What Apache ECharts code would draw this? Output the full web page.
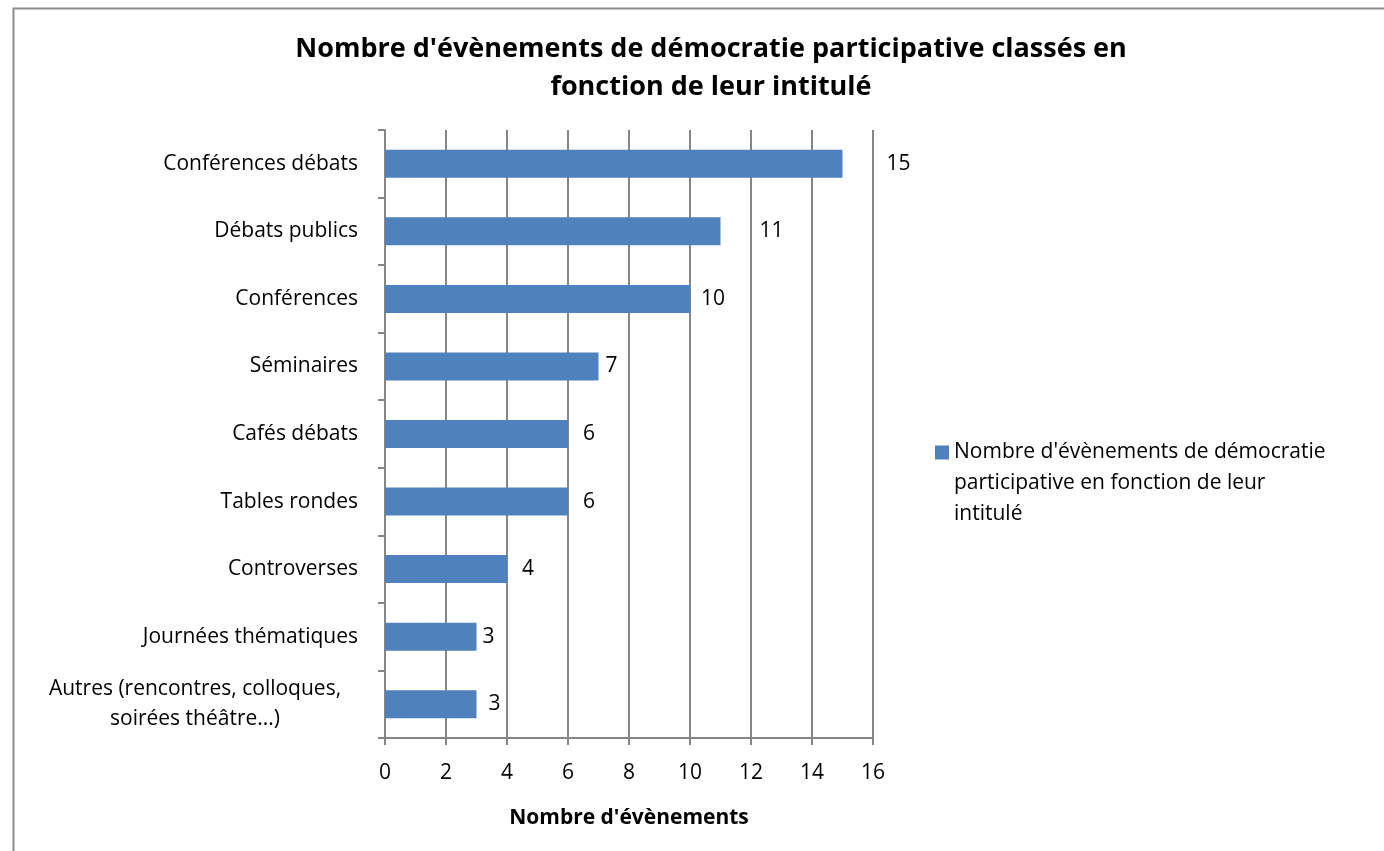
<!DOCTYPE html>
<html>
<head>
<meta charset="utf-8">
<script src="https://cdn.jsdelivr.net/npm/echarts@6/dist/echarts.min.js"></script>
<style>html,body{margin:0;padding:0;background:#fff;}#c{width:1384px;height:851px;}</style>
</head>
<body>
<div id="c"></div>
<script>
const categories = [
  "Conférences débats",
  "Débats publics",
  "Conférences",
  "Séminaires",
  "Cafés débats",
  "Tables rondes",
  "Controverses",
  "Journées thématiques",
  "Autres (rencontres, colloques,\nsoirées théâtre...)"
];
const values = [15, 11, 10, 7, 6, 6, 4, 3, 3];
const seriesName = "Nombre d'évènements de démocratie participative en fonction de leur intitulé";
const legendLines = ["Nombre d'évènements de démocratie", "participative en fonction de leur", "intitulé"];
const titleText = "Nombre d'évènements de démocratie participative classés en\nfonction de leur intitulé";
const xAxisName = "Nombre d'évènements";

// label gaps (px) as placed in the original spreadsheet chart
const labelGaps = [44, 39, 11, 7, 15, 15, 15, 6, 12];

const FONT = "Open Sans";
const chart = echarts.init(document.getElementById('c'));
chart.setOption({
  animation: false,
  backgroundColor: '#fff',
  graphic: [{
    type: 'rect', left: 11, top: 6, shape: {width: 1400, height: 900},
    style: {fill: 'none', stroke: '#8c8c8c', lineWidth: 2}, silent: true
  }],
  title: {
    text: titleText, left: 706, top: 25, textAlign: 'center',
    textStyle: {fontFamily: FONT, fontSize: 27, fontWeight: 'bold', color: '#000', lineHeight: 38}
  },
  legend: {
    left: 930, top: 370, orient: 'vertical', itemWidth: 14, itemHeight: 14, itemGap: 0,
    icon: 'rect',
    formatter: function () { return '\n\n' + legendLines.join('\n'); },
    textStyle: {fontFamily: FONT, fontSize: 21, color: '#000', lineHeight: 31}
  },
  grid: {left: 385, right: 511, top: 130, bottom: 113, containLabel: false},
  xAxis: {
    type: 'value', min: 0, max: 16, interval: 2,
    name: xAxisName, nameLocation: 'middle', nameGap: 70,
    nameTextStyle: {fontFamily: FONT, fontSize: 21, fontWeight: 'bold', color: '#000'},
    axisLine: {show: true, lineStyle: {color: '#868686', width: 2}},
    axisTick: {show: true, length: 7, lineStyle: {color: '#868686', width: 2}},
    axisLabel: {fontFamily: FONT, fontSize: 21, color: '#000', margin: 25},
    splitLine: {show: true, lineStyle: {color: '#868686', width: 2}}
  },
  yAxis: {
    type: 'category', data: categories, inverse: true,
    axisLine: {show: true, lineStyle: {color: '#868686', width: 2}},
    axisTick: {show: true, length: 7, alignWithLabel: false, lineStyle: {color: '#868686', width: 2}},
    axisLabel: {
      fontFamily: FONT, fontSize: 21, color: '#000', margin: 27, lineHeight: 30,
      formatter: function (v) { return v.indexOf('\n') >= 0 ? '{c|' + v + '}' : v; },
      rich: {c: {width: 326, align: 'center', fontFamily: FONT, fontSize: 21, color: '#000', lineHeight: 30}}
    },
    splitLine: {show: false}
  },
  series: [{
    name: seriesName, type: 'bar', barWidth: 28,
    data: values.map(function (v, i) { return {value: v, label: {distance: labelGaps[i]}}; }),
    itemStyle: {color: '#4F81BD'},
    label: {show: true, position: 'right', distance: 14, fontFamily: FONT, fontSize: 21, color: '#000'}
  }]
});
</script>
</body>
</html>
